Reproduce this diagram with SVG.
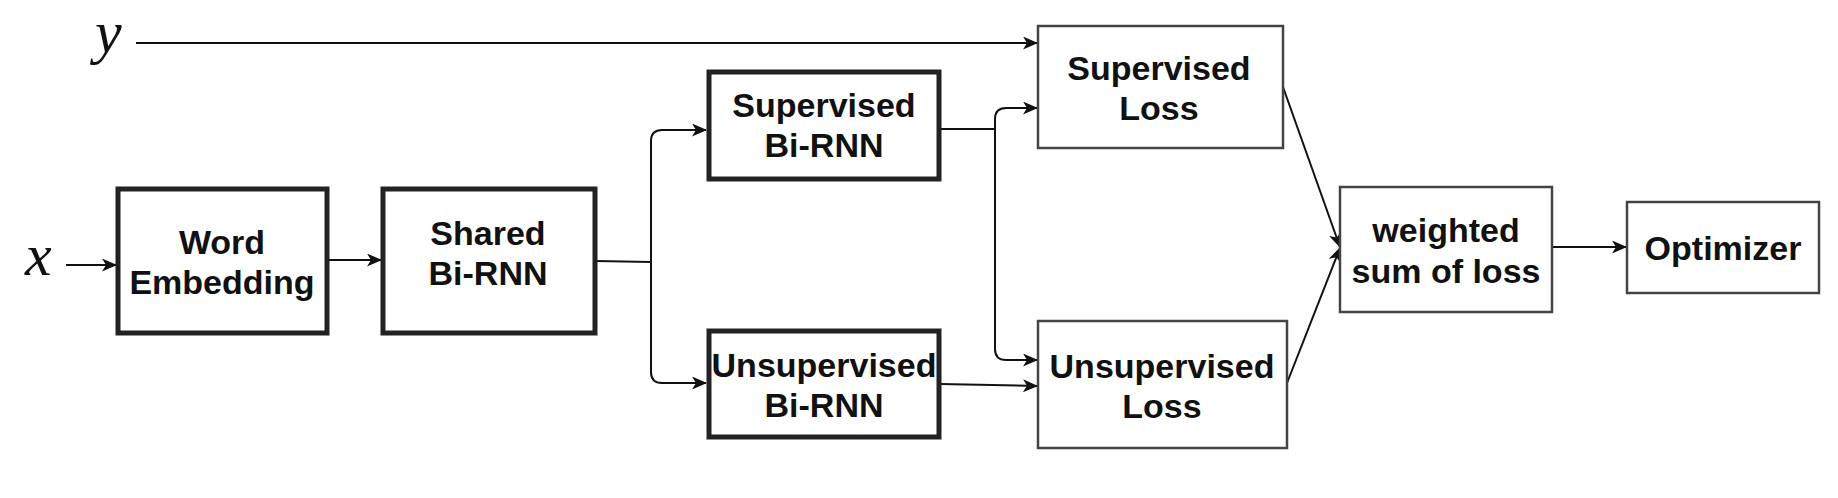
<svg xmlns="http://www.w3.org/2000/svg" width="1838" height="498" viewBox="0 0 1838 498">
<style>
.thick{fill:#fff;stroke:#222;stroke-width:5}
.thin{fill:#fff;stroke:#444;stroke-width:2.5}
.lbl{font-family:"Liberation Sans",Arial,sans-serif;font-weight:bold;font-size:34px;fill:#111;text-anchor:middle}
.var{font-family:"Liberation Serif","Times New Roman",serif;font-style:italic;font-size:60px;fill:#111}
.conn{fill:none;stroke:#111;stroke-width:2}
</style>
<defs>
<marker id="arr" viewBox="0 0 15 13" refX="14" refY="6.5" markerWidth="15" markerHeight="13" markerUnits="userSpaceOnUse" orient="auto">
<path d="M0,0 L15,6.5 L0,13 L4,6.5 Z" fill="#111"/>
</marker>
</defs>
<g id="connectors">
<path class="conn" d="M136,43 H1037" marker-end="url(#arr)"/>
<path class="conn" d="M66,265 H116" marker-end="url(#arr)"/>
<path class="conn" d="M328,260 H381" marker-end="url(#arr)"/>
<path class="conn" d="M596,261 L651,262"/>
<path class="conn" d="M651,262 V141 Q651,130 662,130 H706" marker-end="url(#arr)"/>
<path class="conn" d="M651,262 V372 Q651,383 662,383 H706" marker-end="url(#arr)"/>
<path class="conn" d="M940,129 H995"/>
<path class="conn" d="M995,129 V119 Q995,108 1006,108 H1037" marker-end="url(#arr)"/>
<path class="conn" d="M995,129 V349 Q995,360 1006,360 H1037" marker-end="url(#arr)"/>
<path class="conn" d="M940,384 L1037,386" marker-end="url(#arr)"/>
<path class="conn" d="M1283,87 L1340,247" marker-end="url(#arr)"/>
<path class="conn" d="M1287,383 L1340,248" marker-end="url(#arr)"/>
<path class="conn" d="M1552,247 H1626" marker-end="url(#arr)"/>
</g>
<g id="var-y"><text class="var" x="95" y="52">y</text></g>
<g id="var-x"><text class="var" x="25" y="275">x</text></g>
<g id="word-embedding">
<rect class="thick" x="118" y="189" width="209" height="144"/>
<text class="lbl" x="222" y="254">Word</text>
<text class="lbl" x="222" y="294">Embedding</text>
</g>
<g id="shared-birnn">
<rect class="thick" x="383" y="189" width="212" height="144"/>
<text class="lbl" x="488" y="245">Shared</text>
<text class="lbl" x="488" y="285">Bi-RNN</text>
</g>
<g id="sup-birnn">
<rect class="thick" x="709" y="72" width="230" height="107"/>
<text class="lbl" x="824" y="117">Supervised</text>
<text class="lbl" x="824" y="157">Bi-RNN</text>
</g>
<g id="unsup-birnn">
<rect class="thick" x="709" y="331" width="230" height="106"/>
<text class="lbl" x="824" y="377">Unsupervised</text>
<text class="lbl" x="824" y="417">Bi-RNN</text>
</g>
<g id="sup-loss">
<rect class="thin" x="1038" y="26" width="245" height="122"/>
<text class="lbl" x="1159" y="80">Supervised</text>
<text class="lbl" x="1159" y="120">Loss</text>
</g>
<g id="unsup-loss">
<rect class="thin" x="1038" y="321" width="249" height="127"/>
<text class="lbl" x="1162" y="378">Unsupervised</text>
<text class="lbl" x="1162" y="418">Loss</text>
</g>
<g id="weighted-sum">
<rect class="thin" x="1340" y="187" width="212" height="125"/>
<text class="lbl" x="1446" y="242">weighted</text>
<text class="lbl" x="1446" y="283">sum of loss</text>
</g>
<g id="optimizer">
<rect class="thin" x="1627" y="202" width="192" height="91"/>
<text class="lbl" x="1723" y="260">Optimizer</text>
</g>
</svg>
